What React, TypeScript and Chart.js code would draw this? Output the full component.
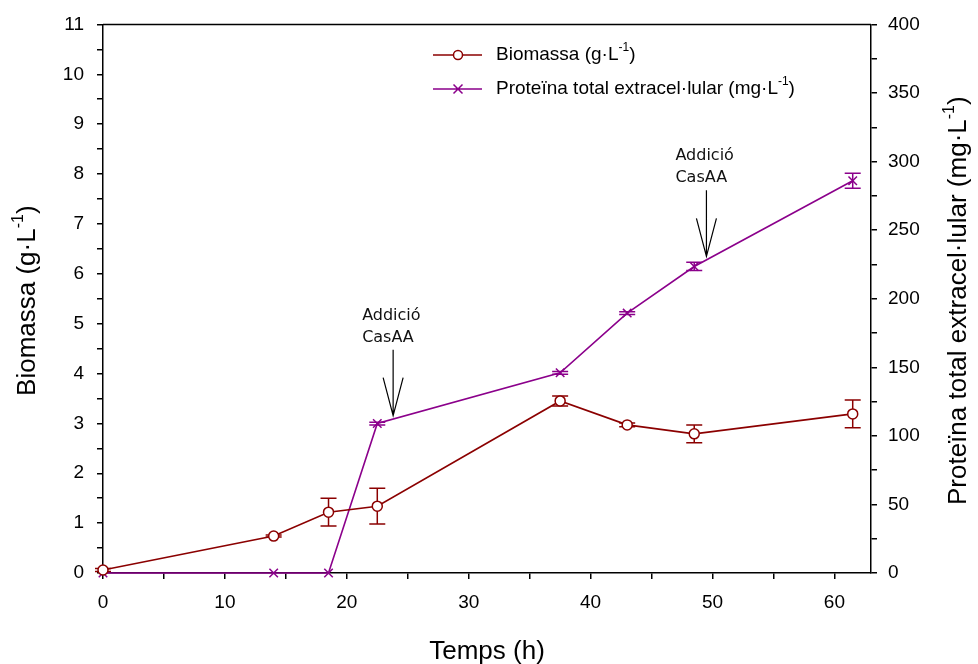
import React, { useEffect, useRef } from 'react';
import { Chart, registerables } from 'chart.js';

Chart.register(...registerables);

// ---- data ----
const timeH = [0, 14, 18.5, 22.5, 37.5, 43, 48.5, 61.5];
const biomass = [0.06, 0.74, 1.22, 1.34, 3.45, 2.97, 2.79, 3.19];
const biomassErr = [0.03, 0.02, 0.28, 0.36, 0.1, 0.04, 0.18, 0.28];
const protein = [0, 0, 0, 109, 146, 189.5, 223.5, 286];
const proteinErr = [0, 0, 0, 1, 1, 1, 3, 5.5];
const annotX = [23.8, 49.5]; // hours
const annotTip = [114.7, 230.9]; // right-axis value where the arrow tip sits
const annotLines = ['Addició', 'CasAA'];
const xTitle = 'Temps (h)';
const yTitle = [{ t: 'Biomassa (g·L' }, { t: '-1', sup: true }, { t: ')' }];
const y1Title = [{ t: 'Proteïna total extracel·lular (mg·L' }, { t: '-1', sup: true }, { t: ')' }];
const legendBiomass = [{ t: 'Biomassa (g·L' }, { t: '-1', sup: true }, { t: ')' }];
const legendProtein = [{ t: 'Proteïna total extracel·lular (mg·L' }, { t: '-1', sup: true }, { t: ')' }];

const RED = '#8b0000';
const PURPLE = '#8b008b';
const FONT = "'Liberation Sans', Arial, sans-serif";

type Part = { t: string; sup?: boolean };

function richWidth(ctx: CanvasRenderingContext2D, parts: Part[], size: number) {
  let w = 0;
  for (const p of parts) {
    ctx.font = `${p.sup ? Math.round(size * 0.62) : size}px ${FONT}`;
    w += ctx.measureText(p.t).width;
  }
  return w;
}

function drawRich(ctx: CanvasRenderingContext2D, parts: Part[], x: number, y: number, size: number) {
  ctx.textBaseline = 'middle';
  ctx.textAlign = 'left';
  let cx = x;
  for (const p of parts) {
    const s = p.sup ? Math.round(size * 0.62) : size;
    ctx.font = `${s}px ${FONT}`;
    ctx.fillText(p.t, cx, p.sup ? y - size * 0.38 : y);
    cx += ctx.measureText(p.t).width;
  }
}

function drawRichCentered(ctx: CanvasRenderingContext2D, parts: Part[], x: number, y: number, size: number) {
  const w = richWidth(ctx, parts, size);
  drawRich(ctx, parts, x - w / 2, y, size);
}

const overlay = {
  id: 'overlay',
  beforeDatasetsDraw(chart: any) {
    const ctx = chart.ctx as CanvasRenderingContext2D;
    const xs = chart.scales.x;
    const ys = chart.scales.y;
    const y1 = chart.scales.y1;
    ctx.save();
    ctx.lineWidth = 1.5;
    const bars = (vals: number[], errs: number[], scale: any, color: string) => {
      ctx.strokeStyle = color;
      for (let i = 0; i < vals.length; i++) {
        if (!errs[i]) continue;
        const px = xs.getPixelForValue(timeH[i]);
        const top = scale.getPixelForValue(vals[i] + errs[i]);
        const bot = scale.getPixelForValue(vals[i] - errs[i]);
        ctx.beginPath();
        ctx.moveTo(px, top);
        ctx.lineTo(px, bot);
        ctx.moveTo(px - 8, top);
        ctx.lineTo(px + 8, top);
        ctx.moveTo(px - 8, bot);
        ctx.lineTo(px + 8, bot);
        ctx.stroke();
      }
    };
    bars(biomass, biomassErr, ys, RED);
    bars(protein, proteinErr, y1, PURPLE);
    ctx.restore();
  },
  afterDraw(chart: any) {
    const ctx = chart.ctx as CanvasRenderingContext2D;
    const a = chart.chartArea;
    const xs = chart.scales.x;
    const y1 = chart.scales.y1;
    ctx.save();
    // top frame line
    ctx.strokeStyle = '#000';
    ctx.lineWidth = 1.5;
    ctx.beginPath();
    ctx.moveTo(a.left, a.top);
    ctx.lineTo(a.right, a.top);
    ctx.stroke();

    ctx.fillStyle = '#000';
    // x title
    drawRichCentered(ctx, [{ t: xTitle }], (a.left + a.right) / 2, 652, 26);
    // left title
    ctx.save();
    ctx.translate(28, (a.top + a.bottom) / 2 + 2);
    ctx.rotate(-Math.PI / 2);
    drawRichCentered(ctx, yTitle, 0, 0, 26);
    ctx.restore();
    // right title
    ctx.save();
    ctx.translate(959, (a.top + a.bottom) / 2 + 2);
    ctx.rotate(-Math.PI / 2);
    drawRichCentered(ctx, y1Title, 0, 0, 26);
    ctx.restore();

    // legend
    const lx0 = 433, lx1 = 482, lm = 458, lt = 496;
    const rows = [55, 89];
    ctx.lineWidth = 1.5;
    ctx.strokeStyle = RED;
    ctx.beginPath();
    ctx.moveTo(lx0, rows[0]);
    ctx.lineTo(lx1, rows[0]);
    ctx.stroke();
    ctx.fillStyle = '#fff';
    ctx.beginPath();
    ctx.arc(lm, rows[0], 4.5, 0, Math.PI * 2);
    ctx.fill();
    ctx.stroke();
    ctx.strokeStyle = PURPLE;
    ctx.beginPath();
    ctx.moveTo(lx0, rows[1]);
    ctx.lineTo(lx1, rows[1]);
    ctx.moveTo(lm - 4.5, rows[1] - 4.5);
    ctx.lineTo(lm + 4.5, rows[1] + 4.5);
    ctx.moveTo(lm - 4.5, rows[1] + 4.5);
    ctx.lineTo(lm + 4.5, rows[1] - 4.5);
    ctx.stroke();
    ctx.fillStyle = '#000';
    drawRich(ctx, legendBiomass, lt, rows[0], 19);
    drawRich(ctx, legendProtein, lt, rows[1], 19);

    // annotations
    for (let i = 0; i < annotX.length; i++) {
      const px = xs.getPixelForValue(annotX[i]);
      const tip = y1.getPixelForValue(annotTip[i]);
      const topY = tip - 66;
      ctx.strokeStyle = '#000';
      ctx.lineWidth = 1.2;
      ctx.beginPath();
      ctx.moveTo(px, topY);
      ctx.lineTo(px, tip);
      ctx.moveTo(px - 10, tip - 38);
      ctx.lineTo(px, tip);
      ctx.lineTo(px + 10, tip - 38);
      ctx.stroke();
      ctx.font = "16px 'DejaVu Sans', sans-serif";
      ctx.textAlign = 'left';
      ctx.textBaseline = 'middle';
      ctx.fillStyle = '#111';
      ctx.fillText(annotLines[0], px - 31, topY - 34);
      ctx.fillText(annotLines[1], px - 31, topY - 12);
    }
    ctx.restore();
  },
};

export default function App() {
  const ref = useRef<HTMLCanvasElement>(null);
  useEffect(() => {
    if (!ref.current) return;
    const tickFont = { family: FONT, size: 19 };
    const axisGrid = {
      drawOnChartArea: false,
      drawTicks: true,
      tickLength: 6,
      color: '#000',
      tickColor: '#000',
      lineWidth: 1.5,
    };
    const chart = new Chart(ref.current, {
      type: 'line',
      data: {
        datasets: [
          {
            label: 'Biomassa',
            data: timeH.map((t, i) => ({ x: t, y: biomass[i] })),
            yAxisID: 'y',
            borderColor: RED,
            borderWidth: 1.6,
            backgroundColor: '#fff',
            pointStyle: 'circle',
            pointRadius: 5,
            pointBorderWidth: 1.5,
            pointBorderColor: RED,
            pointBackgroundColor: '#fff',
            clip: false,
            tension: 0,
          },
          {
            label: 'Proteina',
            data: timeH.map((t, i) => ({ x: t, y: protein[i] })),
            yAxisID: 'y1',
            borderColor: PURPLE,
            borderWidth: 1.6,
            pointStyle: 'crossRot',
            pointRadius: 6,
            pointBorderWidth: 1.5,
            pointBorderColor: PURPLE,
            clip: false,
            tension: 0,
          },
        ],
      },
      options: {
        responsive: false,
        animation: false,
        events: [],
        layout: { padding: { top: 22, left: 0, right: 0, bottom: 0 } },
        plugins: { legend: { display: false }, tooltip: { enabled: false }, title: { display: false } },
        scales: {
          x: {
            type: 'linear',
            min: 0,
            max: 63,
            grid: axisGrid,
            border: { display: true, color: '#000', width: 1.5 },
            ticks: {
              stepSize: 5,
              autoSkip: false,
              includeBounds: false,
              maxRotation: 0,
              padding: 12,
              color: '#000',
              font: tickFont,
              callback: (v: any) => (Number(v) % 10 === 0 ? String(v) : ''),
            },
            afterFit: (s: any) => {
              s.height = 91;
            },
          },
          y: {
            type: 'linear',
            position: 'left',
            min: 0,
            max: 11,
            grid: axisGrid,
            border: { display: true, color: '#000', width: 1.5 },
            ticks: {
              stepSize: 0.5,
              autoSkip: false,
              padding: 13,
              color: '#000',
              font: tickFont,
              callback: (v: any) => (Number.isInteger(Number(v)) ? String(v) : ''),
            },
            afterFit: (s: any) => {
              s.width = 103;
            },
          },
          y1: {
            type: 'linear',
            position: 'right',
            min: 0,
            max: 400,
            grid: axisGrid,
            border: { display: true, color: '#000', width: 1.5 },
            ticks: {
              stepSize: 25,
              autoSkip: false,
              padding: 11,
              color: '#000',
              font: tickFont,
              callback: (v: any) => (Number(v) % 50 === 0 ? String(v) : ''),
            },
            afterFit: (s: any) => {
              s.width = 107;
            },
          },
        },
      },
      plugins: [overlay],
    } as any);
    return () => chart.destroy();
  }, []);
  return (
    <div style={{ position: 'absolute', left: 0, top: 0, width: 978, height: 664, background: '#fff' }}>
      <canvas ref={ref} width={978} height={664} style={{ display: 'block' }} />
    </div>
  );
}
